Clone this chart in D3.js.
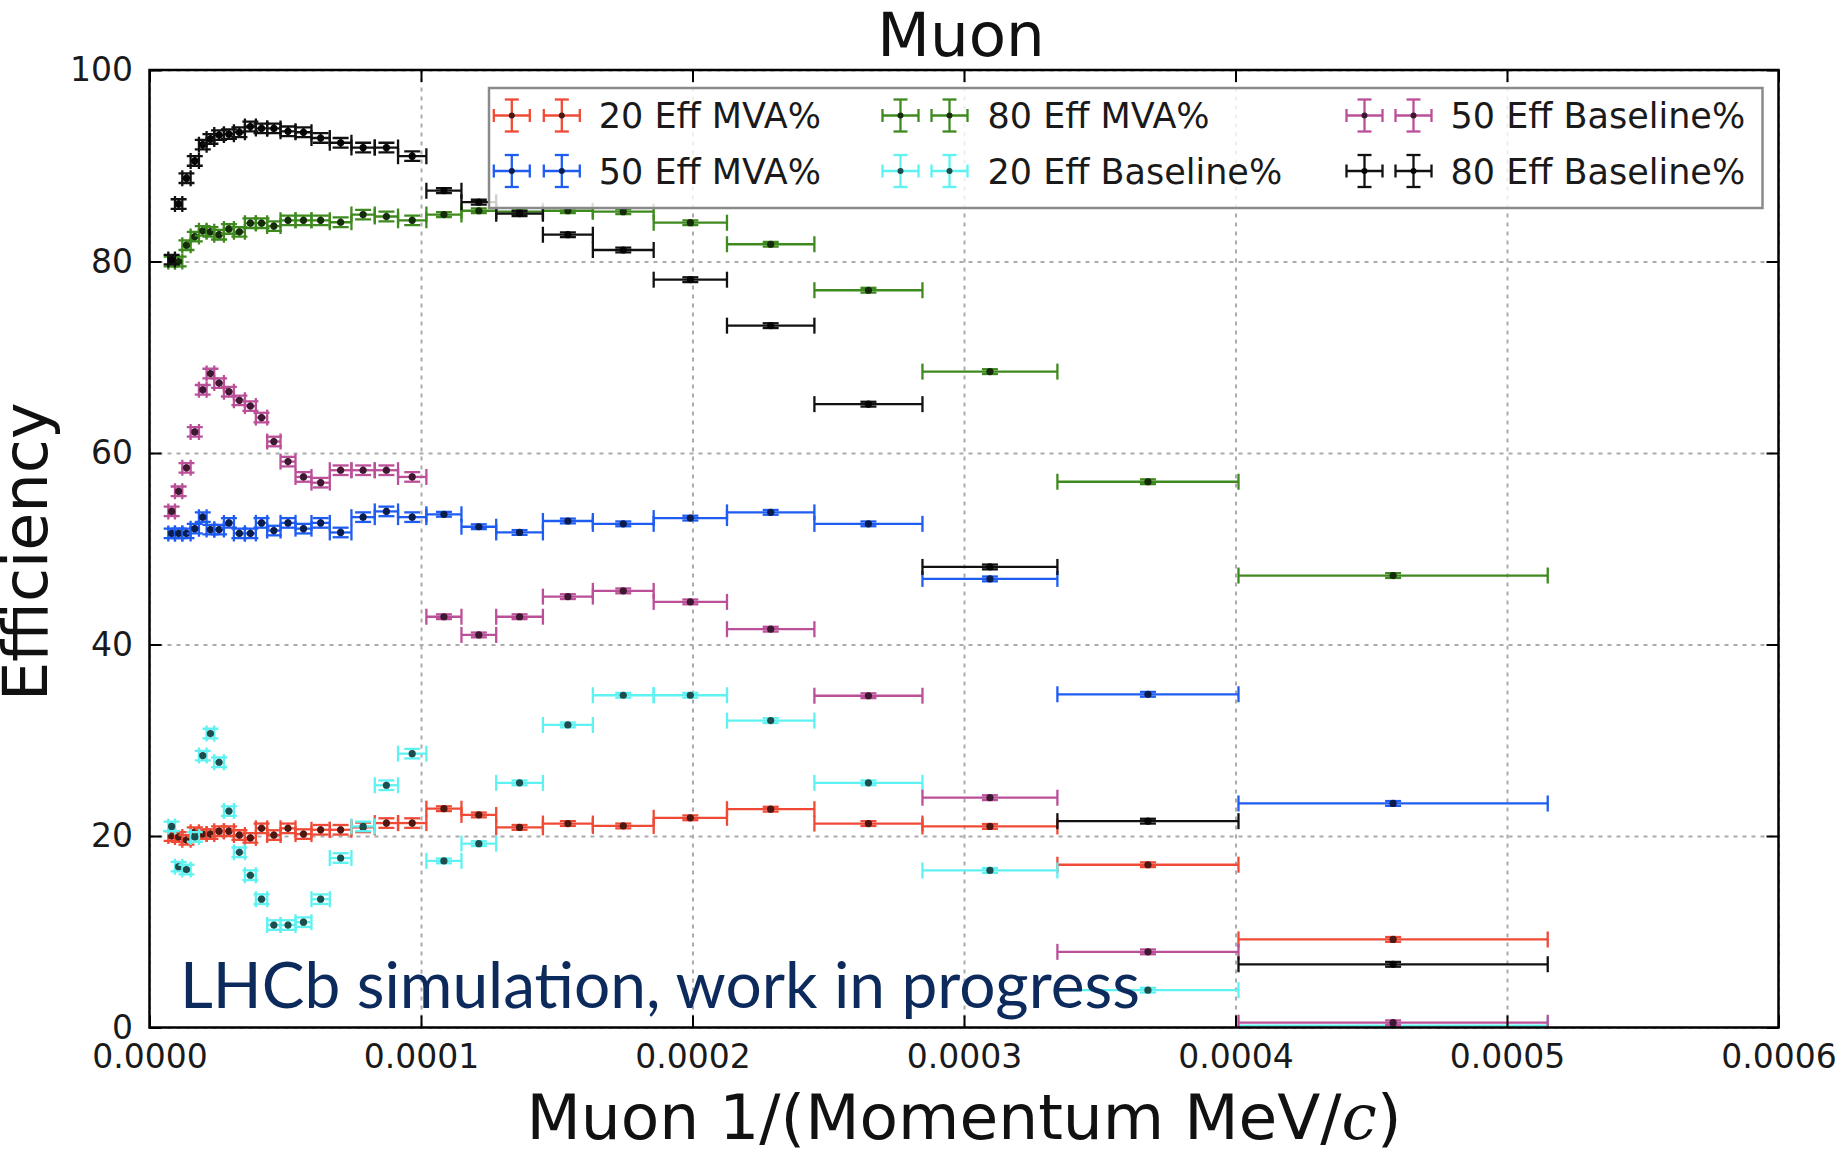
<!DOCTYPE html>
<html>
<head>
<meta charset="utf-8">
<script src="https://cdn.jsdelivr.net/npm/d3@7"></script>
<style>
  html, body { margin: 0; padding: 0; background: #fff; }
  svg { display: block; }
</style>
</head>
<body>
<svg id="chart" width="1843" height="1152"></svg>
<script>
// Bin edges in 1/p (c/MeV): fine binning at high momentum, coarse at low momentum
const binEdges = [
  0.00000693, 0.00000938, 0.00001208, 0.00001515, 0.00001821, 0.00002103,
  0.00002385, 0.00002741, 0.00003109, 0.00003514, 0.00003918, 0.00004335,
  0.00004826, 0.00005378, 0.00005966, 0.00006641, 0.00007438, 0.00008297,
  0.00009155, 0.00010198,
  0.0001149, 0.0001277, 0.0001449, 0.0001633, 0.0001857, 0.0002127,
  0.0002449, 0.0002847, 0.0003344, 0.0004011, 0.0005150
];

// Efficiency (%) per bin for each working point
const eff20MVA = [
  20.0, 19.9, 19.6, 20.4, 20.2, 20.2, 20.5, 20.5, 20.1, 19.8,
  20.8, 20.1, 20.8, 20.2, 20.65, 20.65, 20.9, 21.35, 21.35,
  22.85, 22.2, 20.9, 21.3, 21.05, 21.9, 22.8, 21.3, 21.0, 17.0, 9.2
];
const eff50MVA = [
  51.6, 51.6, 51.6, 52.1, 53.3, 52.0, 52.0, 52.7, 51.6, 51.6,
  52.7, 51.9, 52.7, 52.1, 52.7, 51.7, 53.3, 53.9, 53.3,
  53.6, 52.3, 51.7, 52.9, 52.6, 53.2, 53.8, 52.6, 46.85, 34.8, 23.4
];
const eff80MVA = [
  80.0, 80.0, 81.7, 82.6, 83.2, 83.1, 82.8, 83.4, 83.1, 84.0,
  84.0, 83.7, 84.3, 84.3, 84.3, 84.1, 84.9, 84.7, 84.3,
  84.9, 85.3, 85.2, 85.3, 85.2, 84.05, 81.8, 77.0, 68.5, 57.0, 47.2
];
const eff20Baseline = [
  21.0, 16.8, 16.5, 19.9, 28.4, 30.7, 27.7, 22.6, 18.3, 15.9,
  13.4, 10.7, 10.7, 11.0, 13.4, 17.7, 21.0, 25.3, 28.6,
  17.4, 19.2, 25.55, 31.6, 34.7, 34.7, 32.05, 25.55, 16.4, 3.9, 0.2
];
const eff50Baseline = [
  53.9, 56.0, 58.45, 62.2, 66.6, 68.3, 67.3, 66.4, 65.5, 64.9,
  63.7, 61.2, 59.1, 57.5, 56.9, 58.2, 58.2, 58.2, 57.5,
  42.9, 41.0, 42.9, 45.0, 45.6, 44.45, 41.6, 34.65, 24.0, 7.9, 0.5
];
const eff80Baseline = [
  80.2, 86.0, 88.7, 90.5, 92.2, 92.8, 93.2, 93.3, 93.5, 94.1,
  93.9, 93.9, 93.6, 93.5, 92.9, 92.4, 91.9, 91.9, 91.0,
  87.4, 86.2, 85.0, 82.8, 81.2, 78.1, 73.3, 65.1, 48.1, 21.55, 6.6
];

// Statistical uncertainty (half-width, %) per bin
const effErr = [
  0.5, 0.5, 0.5, 0.5, 0.5, 0.5, 0.5, 0.5, 0.5, 0.5,
  0.5, 0.5, 0.5, 0.5, 0.5, 0.5, 0.5, 0.5, 0.5,
  0.25, 0.25, 0.25, 0.25, 0.25, 0.25, 0.25, 0.25, 0.25, 0.25, 0.25
];

const seriesNames = [
  "20 Eff MVA%", "50 Eff MVA%", "80 Eff MVA%",
  "20 Eff Baseline%", "50 Eff Baseline%", "80 Eff Baseline%"
];
const seriesValues = [eff20MVA, eff50MVA, eff80MVA, eff20Baseline, eff50Baseline, eff80Baseline];
const seriesColors = ["#f04a36", "#1f5cf2", "#3f8a1f", "#5ff2f2", "#bb4f98", "#111111"];

const xTicks = [0, 0.0001, 0.0002, 0.0003, 0.0004, 0.0005, 0.0006];
const xTickLabels = ["0.0000", "0.0001", "0.0002", "0.0003", "0.0004", "0.0005", "0.0006"];
const yTicks = [0, 20, 40, 60, 80, 100];
const yTickLabels = ["0", "20", "40", "60", "80", "100"];

// ---------------------------------------------------------------
const svg = d3.select("#chart");
const FONT = "'DejaVu Sans', sans-serif";

const plot = { left: 149.5, right: 1778.5, top: 70, bottom: 1027.5 };
const x = d3.scaleLinear().domain([0, 0.0006]).range([plot.left, plot.right]);
const y = d3.scaleLinear().domain([0, 100]).range([plot.bottom, plot.top]);

svg.append("rect").attr("width", 1843).attr("height", 1152).attr("fill", "#fff");

svg.append("defs").append("clipPath").attr("id", "plotClip")
  .append("rect")
  .attr("x", plot.left).attr("y", plot.top)
  .attr("width", plot.right - plot.left).attr("height", plot.bottom - plot.top);

// Dashed grid
const gridStyle = g => {
  g.select(".domain").remove();
  g.selectAll(".tick line")
    .attr("stroke", "#ababab").attr("stroke-width", 2)
    .attr("stroke-dasharray", "4,5");
  g.selectAll("text").remove();
};
svg.append("g")
  .attr("transform", `translate(0,${plot.bottom})`)
  .call(d3.axisBottom(x).tickValues(xTicks).tickSize(-(plot.bottom - plot.top)))
  .call(gridStyle);
svg.append("g")
  .attr("transform", `translate(${plot.left},0)`)
  .call(d3.axisLeft(y).tickValues(yTicks).tickSize(-(plot.right - plot.left)))
  .call(gridStyle);

// Error bars
const capHalf = 8;
const dataLayer = svg.append("g").attr("clip-path", "url(#plotClip)");
const bins = d3.range(binEdges.length - 1).map(i => ({
  lo: binEdges[i], hi: binEdges[i + 1], mid: (binEdges[i] + binEdges[i + 1]) / 2, err: effErr[i]
}));

seriesValues.forEach((vals, s) => {
  const col = seriesColors[s];
  const dotCol = d3.interpolateRgb(col, "#000")(0.68);
  const g = dataLayer.append("g").attr("stroke", col).attr("stroke-width", 2.3).attr("fill", "none");
  vals.forEach((v, i) => {
    const b = bins[i];
    const x0 = x(b.lo), x1 = x(b.hi), xc = x(b.mid), yc = y(v);
    const yTop = y(v + b.err), yBot = y(v - b.err);
    const e = g.append("g");
    e.append("line").attr("x1", x0).attr("x2", x1).attr("y1", yc).attr("y2", yc);
    e.append("line").attr("x1", x0).attr("x2", x0).attr("y1", yc - capHalf).attr("y2", yc + capHalf);
    e.append("line").attr("x1", x1).attr("x2", x1).attr("y1", yc - capHalf).attr("y2", yc + capHalf);
    e.append("line").attr("x1", xc).attr("x2", xc).attr("y1", yTop).attr("y2", yBot);
    e.append("line").attr("x1", xc - capHalf).attr("x2", xc + capHalf).attr("y1", yTop).attr("y2", yTop);
    e.append("line").attr("x1", xc - capHalf).attr("x2", xc + capHalf).attr("y1", yBot).attr("y2", yBot);
    e.append("circle").attr("cx", xc).attr("cy", yc).attr("r", 3.6)
      .attr("fill", dotCol).attr("stroke", "none");
  });
});

// Axes with inward ticks on all four sides
const TICK = 12;
const styleAxis = g => {
  g.select(".domain").remove();
  g.selectAll(".tick line").attr("stroke", "#000").attr("stroke-width", 2);
  g.selectAll("text").attr("font-family", FONT).attr("font-size", 33).attr("fill", "#1a1a1a");
};
svg.append("g")
  .attr("transform", `translate(0,${plot.bottom})`)
  .call(d3.axisBottom(x).tickValues(xTicks).tickFormat((d, i) => xTickLabels[i])
        .tickSizeInner(-TICK).tickSizeOuter(0).tickPadding(17))
  .call(styleAxis);
svg.append("g")
  .attr("transform", `translate(${plot.left},0)`)
  .call(d3.axisLeft(y).tickValues(yTicks).tickFormat((d, i) => yTickLabels[i])
        .tickSizeInner(-TICK).tickSizeOuter(0).tickPadding(16.5))
  .call(styleAxis);
svg.append("g")
  .attr("transform", `translate(0,${plot.top})`)
  .call(d3.axisTop(x).tickValues(xTicks).tickFormat("").tickSizeInner(-TICK).tickSizeOuter(0))
  .call(styleAxis);
svg.append("g")
  .attr("transform", `translate(${plot.right},0)`)
  .call(d3.axisRight(y).tickValues(yTicks).tickFormat("").tickSizeInner(-TICK).tickSizeOuter(0))
  .call(styleAxis);

svg.append("rect")
  .attr("x", plot.left).attr("y", plot.top)
  .attr("width", plot.right - plot.left).attr("height", plot.bottom - plot.top)
  .attr("fill", "none").attr("stroke", "#000").attr("stroke-width", 2.5);

// Legend
const legend = svg.append("g");
legend.append("rect")
  .attr("x", 489).attr("y", 88).attr("width", 1273.5).attr("height", 120)
  .attr("fill", "#fff").attr("fill-opacity", 0.8)
  .attr("stroke", "#8a8a8a").attr("stroke-width", 2.5);

const legendCols = [
  { m: [511.8, 561.8], t: 598.8 },
  { m: [900.5, 949.5], t: 987.5 },
  { m: [1364.5, 1413.5], t: 1450.5 }
];
const legendRows = [115.5, 171];

seriesNames.forEach((name, s) => {
  const col = legendCols[Math.floor(s / 2)];
  const ly = legendRows[s % 2];
  const c = seriesColors[s];
  const dotCol = d3.interpolateRgb(c, "#000")(0.68);
  col.m.forEach(mx => {
    const g = legend.append("g").attr("stroke", c).attr("stroke-width", 2.3);
    g.append("line").attr("x1", mx - 18).attr("x2", mx + 18).attr("y1", ly).attr("y2", ly);
    g.append("line").attr("x1", mx - 18).attr("x2", mx - 18).attr("y1", ly - 6.5).attr("y2", ly + 6.5);
    g.append("line").attr("x1", mx + 18).attr("x2", mx + 18).attr("y1", ly - 6.5).attr("y2", ly + 6.5);
    g.append("line").attr("x1", mx).attr("x2", mx).attr("y1", ly - 16).attr("y2", ly + 16);
    g.append("line").attr("x1", mx - 7).attr("x2", mx + 7).attr("y1", ly - 16).attr("y2", ly - 16);
    g.append("line").attr("x1", mx - 7).attr("x2", mx + 7).attr("y1", ly + 16).attr("y2", ly + 16);
    g.append("circle").attr("cx", mx).attr("cy", ly).attr("r", 3).attr("fill", dotCol).attr("stroke", "none");
  });
  legend.append("text")
    .attr("x", col.t).attr("y", ly).attr("dy", "0.36em")
    .attr("font-family", FONT).attr("font-size", 35).attr("fill", "#1a1a1a")
    .text(name);
});

// Titles
svg.append("text")
  .attr("x", 961).attr("y", 56)
  .attr("text-anchor", "middle")
  .attr("font-family", FONT).attr("font-size", 61).attr("fill", "#111")
  .text("Muon");

const xl = svg.append("text")
  .attr("x", 964).attr("y", 1139)
  .attr("text-anchor", "middle")
  .attr("font-family", FONT).attr("font-size", 63).attr("fill", "#111");
xl.append("tspan").text("Muon 1/(Momentum MeV/");
xl.append("tspan").attr("font-family", "'DejaVu Serif', serif").attr("font-style", "italic").text("c");
xl.append("tspan").text(")");

svg.append("text")
  .attr("transform", `translate(47,${(plot.top + plot.bottom) / 2 + 3}) rotate(-90)`)
  .attr("text-anchor", "middle")
  .attr("font-family", FONT).attr("font-size", 62).attr("fill", "#111")
  .text("Efficiency");

// Simulation label
svg.append("text")
  .attr("x", 180).attr("y", 1008)
  .attr("font-family", "Lato, 'Open Sans', sans-serif").attr("font-size", 64)
  .attr("fill", "#0d2a5c")
  .text("LHCb simulation, work in progress");
</script>
</body>
</html>
